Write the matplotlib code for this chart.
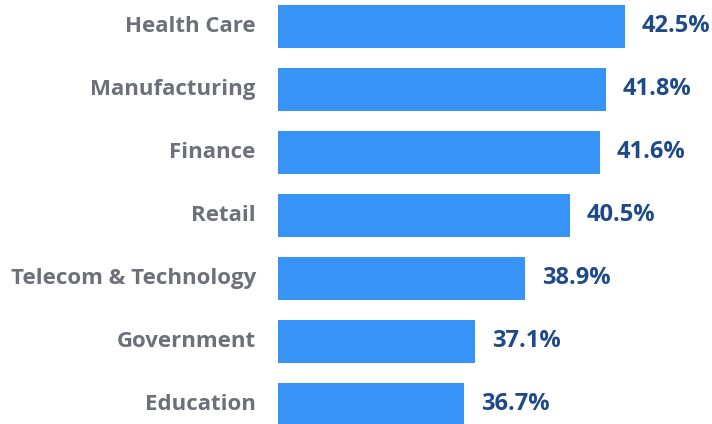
import matplotlib
matplotlib.use("Agg")
import matplotlib.pyplot as plt

industries = ["Health Care", "Manufacturing", "Finance", "Retail",
              "Telecom & Technology", "Government", "Education"]
rates = [42.5, 41.8, 41.6, 40.5, 38.9, 37.1, 36.7]

bar_color = "#3893f6"
label_color = "#6d7079"
value_color = "#1f4a8a"

fig = plt.figure(figsize=(7.12, 4.24), dpi=100)
ax = fig.add_axes([278 / 712, 0, 1 - 278 / 712, 1])

pos = list(range(len(industries)))
ax.barh(pos, [r - 30 for r in rates], left=30, height=0.68, color=bar_color)

ax.set_xlim(30, 45.63)
ax.set_ylim(6.31, -0.42)
ax.axis("off")

for i, (name, r) in enumerate(zip(industries, rates)):
    ax.text(29.2, i, name, ha="right", va="center", fontsize=16,
            fontweight="bold", family="Open Sans", color=label_color)
    ax.text(r + 0.6, i, f"{r}%", ha="left", va="center", fontsize=17,
            fontweight="bold", family="Open Sans", color=value_color)

fig.savefig("out.png", dpi=100)
